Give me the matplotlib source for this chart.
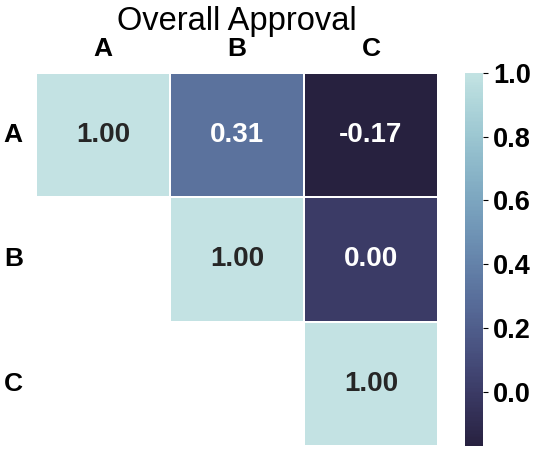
import numpy as np
import matplotlib
matplotlib.use('Agg')
import matplotlib.pyplot as plt
import seaborn as sns

# Correlation of overall approval between groups
labels = ['A', 'B', 'C']
corr = np.array([[1.00, 0.31, -0.17],
                 [0.31, 1.00, 0.00],
                 [-0.17, 0.00, 1.00]])
cbar_ticks = [0.0, 0.2, 0.4, 0.6, 0.8, 1.0]

plt.rcParams['font.family'] = ['Liberation Sans', 'DejaVu Sans']

# hide the lower triangle
mask = np.tril(np.ones_like(corr, dtype=bool), k=-1)

cmap = sns.cubehelix_palette(start=.2, rot=-.3, as_cmap=True, reverse=True)

fig = plt.figure(figsize=(5.34, 4.5), dpi=100)
ax = fig.add_axes([0.0674, 0.009, 0.7528, 0.829])
cax = fig.add_axes([0.871, 0.009, 0.0337, 0.829])

sns.heatmap(corr, mask=mask, cmap=cmap, vmin=corr.min(), vmax=1.0,
            annot=True, fmt='.2f', annot_kws={'fontsize': 20, 'fontweight': 'bold'},
            linewidths=1.2, linecolor='white', ax=ax, cbar_ax=cax,
            xticklabels=labels, yticklabels=labels)

ax.xaxis.tick_top()
ax.tick_params(axis='x', length=0, labelsize=19, pad=8.5)
ax.tick_params(axis='y', length=0, labelsize=19, pad=9.5)
for t in ax.get_xticklabels() + ax.get_yticklabels():
    t.set_fontweight('bold')
plt.setp(ax.get_yticklabels(), rotation=0)
ax.set_title('Overall Approval', fontsize=23.5, y=1.115, pad=0)

cax.set_yticks(cbar_ticks)
cax.set_yticklabels(['%.1f' % v for v in cbar_ticks], fontweight='bold')
cax.tick_params(labelsize=19.5, length=3.5, width=0.8)

plt.savefig('out.png', dpi=100)
